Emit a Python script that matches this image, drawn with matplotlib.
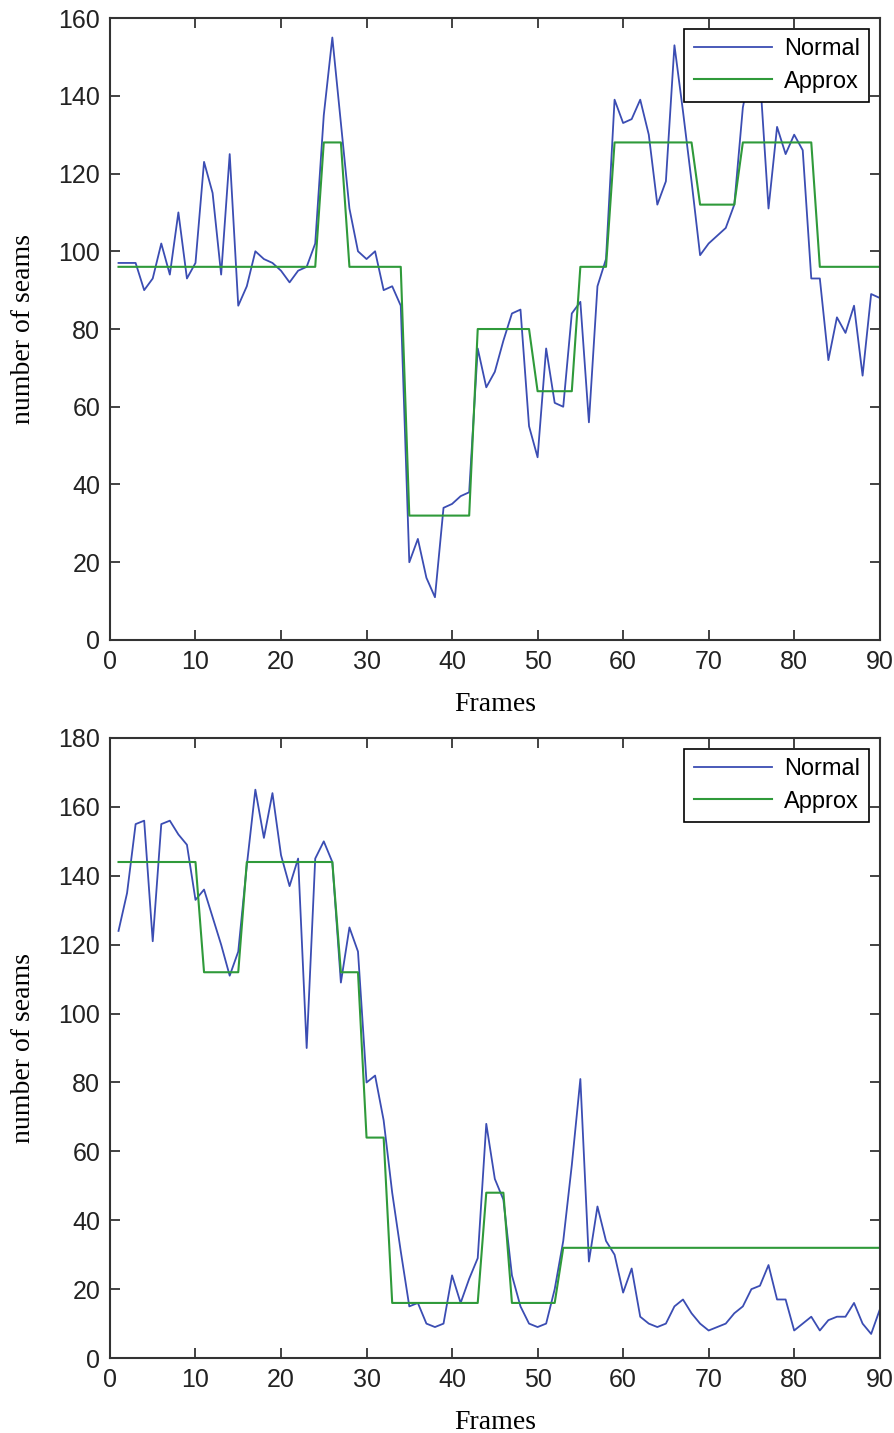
import matplotlib
matplotlib.use("Agg")
import matplotlib.pyplot as plt
from matplotlib import font_manager

# ——————————————
# data (frames 1..90)
# ——————————————
frames = list(range(1, 91))

top_normal = [
    97, 97, 97, 90, 93, 102, 94, 110, 93, 97,
    123, 115, 94, 125, 86, 91, 100, 98, 97, 95,
    92, 95, 96, 102, 135, 155, 133, 111, 100, 98,
    100, 90, 91, 86, 20, 26, 16, 11, 34, 35,
    37, 38, 75, 65, 69, 77, 84, 85, 55, 47,
    75, 61, 60, 84, 87, 56, 91, 98, 139, 133,
    134, 139, 130, 112, 118, 153, 136, 118, 99, 102,
    104, 106, 112, 137, 148, 145, 111, 132, 125, 130,
    126, 93, 93, 72, 83, 79, 86, 68, 89, 88,
]
top_approx = [96] * 24 + [128] * 3 + [96] * 7 + [32] * 8 + [80] * 7 + [64] * 5 \
    + [96] * 4 + [128] * 10 + [112] * 5 + [128] * 9 + [96] * 8

bottom_normal = [
    124, 135, 155, 156, 121, 155, 156, 152, 149, 133,
    136, 128, 120, 111, 118, 143, 165, 151, 164, 146,
    137, 145, 90, 145, 150, 144, 109, 125, 118, 80,
    82, 69, 48, 31, 15, 16, 10, 9, 10, 24,
    16, 23, 29, 68, 52, 46, 24, 15, 10, 9,
    10, 20, 34, 56, 81, 28, 44, 34, 30, 19,
    26, 12, 10, 9, 10, 15, 17, 13, 10, 8,
    9, 10, 13, 15, 20, 21, 27, 17, 17, 8,
    10, 12, 8, 11, 12, 12, 16, 10, 7, 14,
]
bottom_approx = [144] * 10 + [112] * 5 + [144] * 11 + [112] * 3 + [64] * 3 \
    + [16] * 11 + [48] * 3 + [16] * 6 + [32] * 38

panels = [
    (top_normal, top_approx, 160),
    (bottom_normal, bottom_approx, 180),
]

# ——————————————
# fonts
# ——————————————
installed = {f.name for f in font_manager.fontManager.ttflist}
tick_font = "Liberation Sans Narrow" if "Liberation Sans Narrow" in installed else "Liberation Sans"
label_font = "Liberation Serif"
legend_font = "Liberation Sans"

blue = "#3b4db3"
green = "#2f9a3a"

fig = plt.figure(figsize=(8.94, 14.33), dpi=100)
rects = [
    [0.123, 0.5534, 0.861, 0.434],
    [0.123, 0.0523, 0.861, 0.4327],
]

for (normal, approx, ymax), rect in zip(panels, rects):
    ax = fig.add_axes(rect)
    ax.plot(frames, normal, color=blue, lw=1.3, label="Normal")
    ax.plot(frames, approx, color=green, lw=1.5, label="Approx")
    ax.set_xlim(0, 90)
    ax.set_ylim(0, ymax)
    ax.set_xticks(range(0, 91, 10))
    ax.set_yticks(range(0, ymax + 1, 20))
    ax.tick_params(direction="in", length=7, width=1.2, top=True, right=True,
                   labelsize=18, pad=7, colors="#222222")
    for lab in ax.get_xticklabels() + ax.get_yticklabels():
        lab.set_fontfamily(tick_font)
    for sp in ax.spines.values():
        sp.set_linewidth(1.5)
        sp.set_color("#333333")
    ax.set_xlabel("Frames", fontfamily=label_font, fontsize=20, labelpad=13)
    ax.set_ylabel("number of seams", fontfamily=label_font, fontsize=20, labelpad=16)
    leg = ax.legend(loc="upper right", prop={"family": legend_font, "size": 17},
                    fancybox=False, framealpha=1, edgecolor="black",
                    handlelength=3.3, handletextpad=0.5, borderpad=0.4,
                    labelspacing=0.45, borderaxespad=0.45)
    leg.get_frame().set_linewidth(1.2)

fig.savefig("out.png", dpi=100)
